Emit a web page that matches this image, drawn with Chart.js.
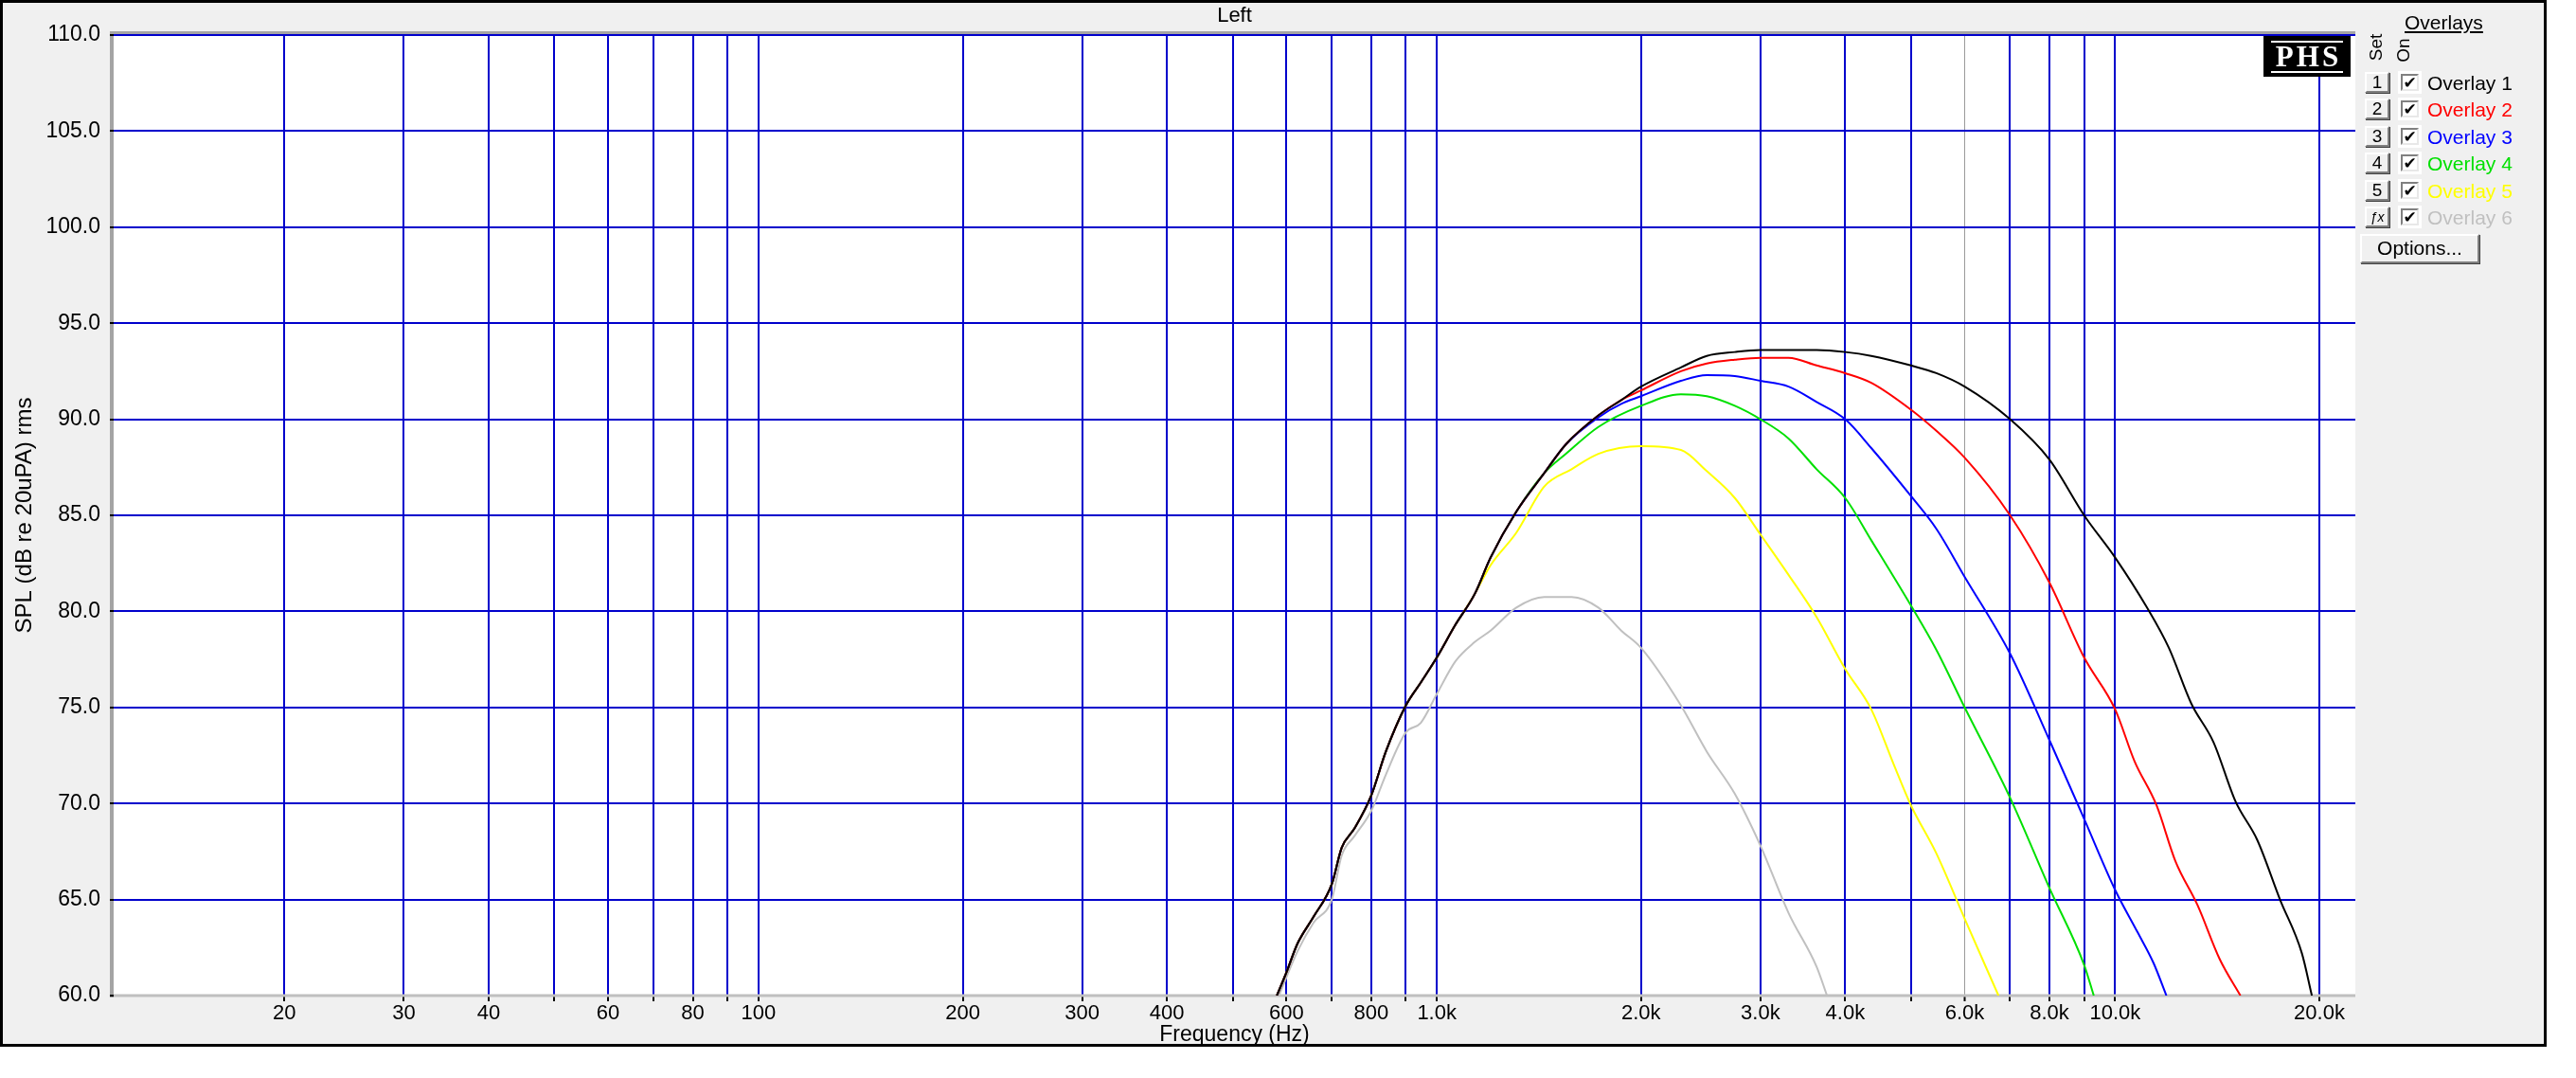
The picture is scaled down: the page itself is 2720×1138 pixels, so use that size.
<!DOCTYPE html>
<html>
<head>
<meta charset="utf-8">
<title>Left</title>
<script src="https://cdn.jsdelivr.net/npm/chart.js@4.4.1/dist/chart.umd.min.js"></script>
<style>
  html, body { margin: 0; padding: 0; background: #fff; }
  #wrap { position: relative; width: 2720px; height: 1138px; overflow: hidden;
          font-family: 'Liberation Sans', Arial, sans-serif; }
  #chart { position: absolute; left: 0; top: 0; }
  .abs { position: absolute; white-space: nowrap; }
  .btn { position: absolute; box-sizing: border-box; background: #f0f0f0; color: #000;
         border: 2px solid; border-color: #fff #808080 #808080 #fff;
         box-shadow: 1px 1px 0 #404040; text-align: center; }
  .num { width: 26px; height: 22px; font-size: 19px; line-height: 18px; }
  .chk { position: absolute; width: 25px; height: 24px; background: #fff; }
  .chk span { position: absolute; left: 3px; top: 3px; width: 19px; height: 18px; box-sizing: border-box;
              border: 2px solid; border-color: #808080 #e8e8e8 #e8e8e8 #808080;
              font: bold 17px 'DejaVu Sans', sans-serif; line-height: 14px; text-align: center; color: #000; }
  .lbl { font-size: 21px; line-height: 24px; }
  .vert { position: absolute; font-size: 19px; line-height: 20px; white-space: nowrap;
          transform: translate(-50%, -50%) rotate(-90deg); }
</style>
</head>
<body>
<div id="wrap">
  <canvas id="chart" width="2720" height="1138"></canvas>
  <div id="panel"></div>
</div>
<script>
// values: frequency (Hz) and SPL (dB)
const riseHz = [581, 600, 623, 658, 700, 724, 756, 800, 841, 900, 947, 1000, 1065, 1137];
const riseDb = [60.0, 61.2, 62.7, 64.1, 65.8, 67.7, 68.7, 70.4, 72.7, 75.1, 76.3, 77.6, 79.3, 80.9];
const upperHz = [1200, 1310, 1440];
const upperDb = [82.8, 85.2, 87.2];

const ov1Hz = [1550, 1730, 1870, 2000, 2290, 2500, 2750, 3000, 3300, 3630, 4000, 4370, 5000, 5450, 6000, 7000, 8000, 9000, 10000, 11140, 12000, 12950, 13960, 15050, 16200, 17500, 18850, 19500];
const ov1Db = [88.7, 90.2, 91.0, 91.7, 92.7, 93.3, 93.5, 93.6, 93.6, 93.6, 93.5, 93.3, 92.8, 92.4, 91.7, 90.0, 87.9, 85.0, 82.8, 80.2, 78.1, 75.2, 73.2, 70.1, 68.1, 65.0, 62.2, 60.0];

const ov2Hz = [1550, 1730, 1870, 2000, 2290, 2500, 2750, 3000, 3300, 3630, 4000, 4370, 5000, 5450, 6000, 7000, 8000, 9000, 10000, 10680, 11510, 12270, 13230, 14260, 15300];
const ov2Db = [88.7, 90.2, 91.0, 91.5, 92.5, 92.9, 93.1, 93.2, 93.2, 92.8, 92.4, 91.9, 90.5, 89.4, 88.0, 85.0, 81.5, 77.6, 74.9, 72.2, 69.9, 67.0, 64.7, 61.9, 60.0];

const ov3Hz = [1550, 1730, 1870, 2000, 2290, 2500, 2750, 3000, 3300, 3630, 4000, 4370, 5000, 5450, 6000, 7000, 8000, 9000, 10000, 10790, 11390, 11900];
const ov3Db = [88.7, 90.1, 90.8, 91.2, 92.0, 92.3, 92.25, 92.0, 91.7, 90.9, 90.0, 88.5, 86.0, 84.3, 81.8, 77.8, 73.3, 69.2, 65.5, 63.3, 61.7, 60.0];

const ov4Hz = [1550, 1730, 2000, 2290, 2500, 2750, 3000, 3300, 3630, 4000, 4370, 5000, 5450, 6000, 7000, 8000, 9000, 9300];
const ov4Db = [88.2, 89.6, 90.7, 91.3, 91.2, 90.7, 90.0, 89.0, 87.4, 85.9, 83.7, 80.3, 78.0, 75.0, 70.3, 65.6, 61.6, 60.0];

const ov5Hz = [1200, 1310, 1440, 1580, 1730, 2000, 2290, 2500, 2750, 3000, 3300, 3630, 4000, 4370, 4720, 5000, 5450, 6000, 6730];
const ov5Db = [82.4, 84.1, 86.5, 87.4, 88.2, 88.6, 88.4, 87.3, 85.9, 84.0, 81.9, 79.7, 77.0, 74.9, 72.0, 69.9, 67.4, 64.0, 60.0];

const ov6Hz = [585, 623, 658, 700, 724, 756, 800, 841, 900, 947, 1000, 1065, 1137, 1200, 1310, 1440, 1580, 1730, 1870, 2000, 2290, 2500, 2750, 3000, 3300, 3630, 3760];
const ov6Db = [60.0, 62.3, 63.8, 65.0, 67.3, 68.3, 69.6, 71.5, 73.7, 74.2, 75.7, 77.4, 78.4, 79.0, 80.2, 80.75, 80.75, 80.2, 79.0, 78.1, 75.1, 72.7, 70.5, 67.8, 64.3, 61.5, 60.0];

const overlayNames = ['Overlay 1', 'Overlay 2', 'Overlay 3', 'Overlay 4', 'Overlay 5', 'Overlay 6'];
const overlayColors = ['#000000', '#ff0000', '#0000ff', '#00e000', '#ffff00', '#c0c0c0'];
const setMarks = ['1', '2', '3', '4', '5', 'ƒx'];

// axis ticks
const xTicks = [20, 30, 40, 50, 60, 70, 80, 90, 100, 200, 300, 400, 500, 600, 700, 800, 900,
                1000, 2000, 3000, 4000, 5000, 6000, 7000, 8000, 9000, 10000, 20000];
const xLabeled = [20, 30, 40, 60, 80, 100, 200, 300, 400, 600, 800, 1000, 2000, 3000, 4000, 6000, 8000, 10000, 20000];
const yTicks = [60, 65, 70, 75, 80, 85, 90, 95, 100, 105, 110];

const seriesHz = [riseHz.concat(upperHz, ov1Hz), riseHz.concat(upperHz, ov2Hz), riseHz.concat(upperHz, ov3Hz),
                  riseHz.concat(upperHz, ov4Hz), riseHz.concat(ov5Hz), ov6Hz];
const seriesDb = [riseDb.concat(upperDb, ov1Db), riseDb.concat(upperDb, ov2Db), riseDb.concat(upperDb, ov3Db),
                  riseDb.concat(upperDb, ov4Db), riseDb.concat(ov5Db), ov6Db];

function fmtHz(v) {
    return v >= 1000 ? (v / 1000).toFixed(1) + 'k' : String(v);
}

// window frame, white plot area and grey borders
const frame = {
    id: 'frame',
    beforeDraw(chart) {
        const { ctx, chartArea: a } = chart;
        ctx.save();
        ctx.fillStyle = '#ffffff';
        ctx.fillRect(0, 0, chart.width, chart.height);
        ctx.fillStyle = '#f0f0f0';
        ctx.fillRect(2, 2, 2686, 1102);
        ctx.strokeStyle = '#000000';
        ctx.lineWidth = 3;
        ctx.strokeRect(1.5, 1.5, 2686, 1102);
        ctx.fillStyle = '#ffffff';
        ctx.fillRect(a.left, a.top, a.right - a.left, a.bottom - a.top);
        ctx.fillStyle = '#a4a4a4';
        ctx.fillRect(a.left - 4, a.top - 4, a.right - a.left + 4, 3);
        ctx.fillRect(a.left - 4, a.top - 4, 4, a.bottom - a.top + 6);
        ctx.restore();
    },
    beforeDatasetsDraw(chart) {
        const { ctx, chartArea: a } = chart;
        ctx.save();
        ctx.fillStyle = '#c0c0c0';
        ctx.fillRect(a.left, a.bottom - 1.5, a.right - a.left, 3);
        ctx.restore();
    }
};

Chart.defaults.font.family = "'Liberation Sans', Arial, sans-serif";
Chart.defaults.color = '#000';

new Chart(document.getElementById('chart'), {
    type: 'line',
    data: {
        datasets: overlayNames.map((name, i) => ({
            label: name,
            data: seriesHz[i].map((f, j) => ({ x: f, y: seriesDb[i][j] })),
            borderColor: overlayColors[i],
            borderWidth: 2,
            pointRadius: 0,
            fill: false,
            cubicInterpolationMode: 'monotone'
        }))
    },
    options: {
        responsive: false,
        animation: false,
        devicePixelRatio: 1,
        layout: { padding: { top: 0, right: 233, bottom: 32, left: 0 } },
        plugins: {
            legend: { display: false },
            tooltip: { enabled: false },
            title: {
                display: true, text: 'Left', fullSize: false, color: '#000',
                font: { size: 22, weight: 'normal' },
                padding: { top: 4, bottom: 6.6 }
            }
        },
        scales: {
            x: {
                type: 'logarithmic',
                min: 11.2,
                max: 22600,
                bounds: 'data',
                afterBuildTicks: s => { s.ticks = xTicks.map(v => ({ value: v })); },
                afterFit: s => { s.height = 55; },
                ticks: {
                    autoSkip: false, maxRotation: 0, padding: 0, color: '#000',
                    font: { size: 22 },
                    callback: v => xLabeled.includes(v) ? fmtHz(v) : ''
                },
                grid: {
                    color: c => (c.tick && c.tick.value === 6000) ? '#9a9a9a' : '#0000cc',
                    lineWidth: c => (c.tick && c.tick.value === 6000) ? 1 : 2,
                    tickColor: '#000', tickLength: 6, tickWidth: 2
                },
                border: { display: false },
                title: { display: true, text: 'Frequency (Hz)', color: '#000', font: { size: 23 }, padding: 0 }
            },
            y: {
                min: 60,
                max: 110,
                afterBuildTicks: s => { s.ticks = yTicks.map(v => ({ value: v })); },
                afterFit: s => { s.width = 120; },
                ticks: { padding: 10, color: '#000', font: { size: 23 }, callback: v => v.toFixed(1) },
                grid: {
                    color: c => (c.tick && c.tick.value === 60) ? 'rgba(0,0,0,0)' : '#0000cc',
                    lineWidth: 2,
                    tickColor: '#000', tickLength: 4, tickWidth: 2
                },
                border: { display: false },
                title: { display: true, text: 'SPL (dB re 20uPA) rms', color: '#000', font: { size: 24 }, padding: { top: 12, bottom: 0 } }
            }
        }
    },
    plugins: [frame]
});

// overlay panel on the right
const panel = document.getElementById('panel');
panel.innerHTML = `
    <div class="abs" style="left:2390px;top:38px;width:92px;height:43px;background:#000;">
        <div class="abs" style="left:8px;top:5px;width:76px;height:34px;box-sizing:border-box;
             border-top:2px solid #fff;border-bottom:2px solid #fff;color:#fff;text-align:center;
             font:bold 31px 'Liberation Serif',serif;line-height:30px;letter-spacing:3px;padding-left:3px;">PHS</div>
    </div>
    <div class="abs lbl" style="left:2539px;top:12px;text-decoration:underline;">Overlays</div>
    <div class="vert" style="left:2509px;top:50px;">Set</div>
    <div class="vert" style="left:2538px;top:53px;">On</div>
    <div class="btn" style="left:2492px;top:247px;width:126px;height:31px;font-size:21px;line-height:26px;">Options...</div>
`;

overlayNames.forEach((name, i) => {
    const top = Math.round(76 + i * 28.4);
    const row = document.createElement('div');
    row.innerHTML = `
        <div class="btn num" style="left:2497px;top:${top}px;${i === 5 ? 'font-size:14px;font-style:italic;' : ''}">${setMarks[i]}</div>
        <div class="chk" style="left:2532px;top:${top - 1}px;"><span>✔</span></div>
        <div class="abs lbl" style="left:2563px;top:${top}px;color:${overlayColors[i]};">${name}</div>
    `;
    panel.appendChild(row);
});
</script>
</body>
</html>
